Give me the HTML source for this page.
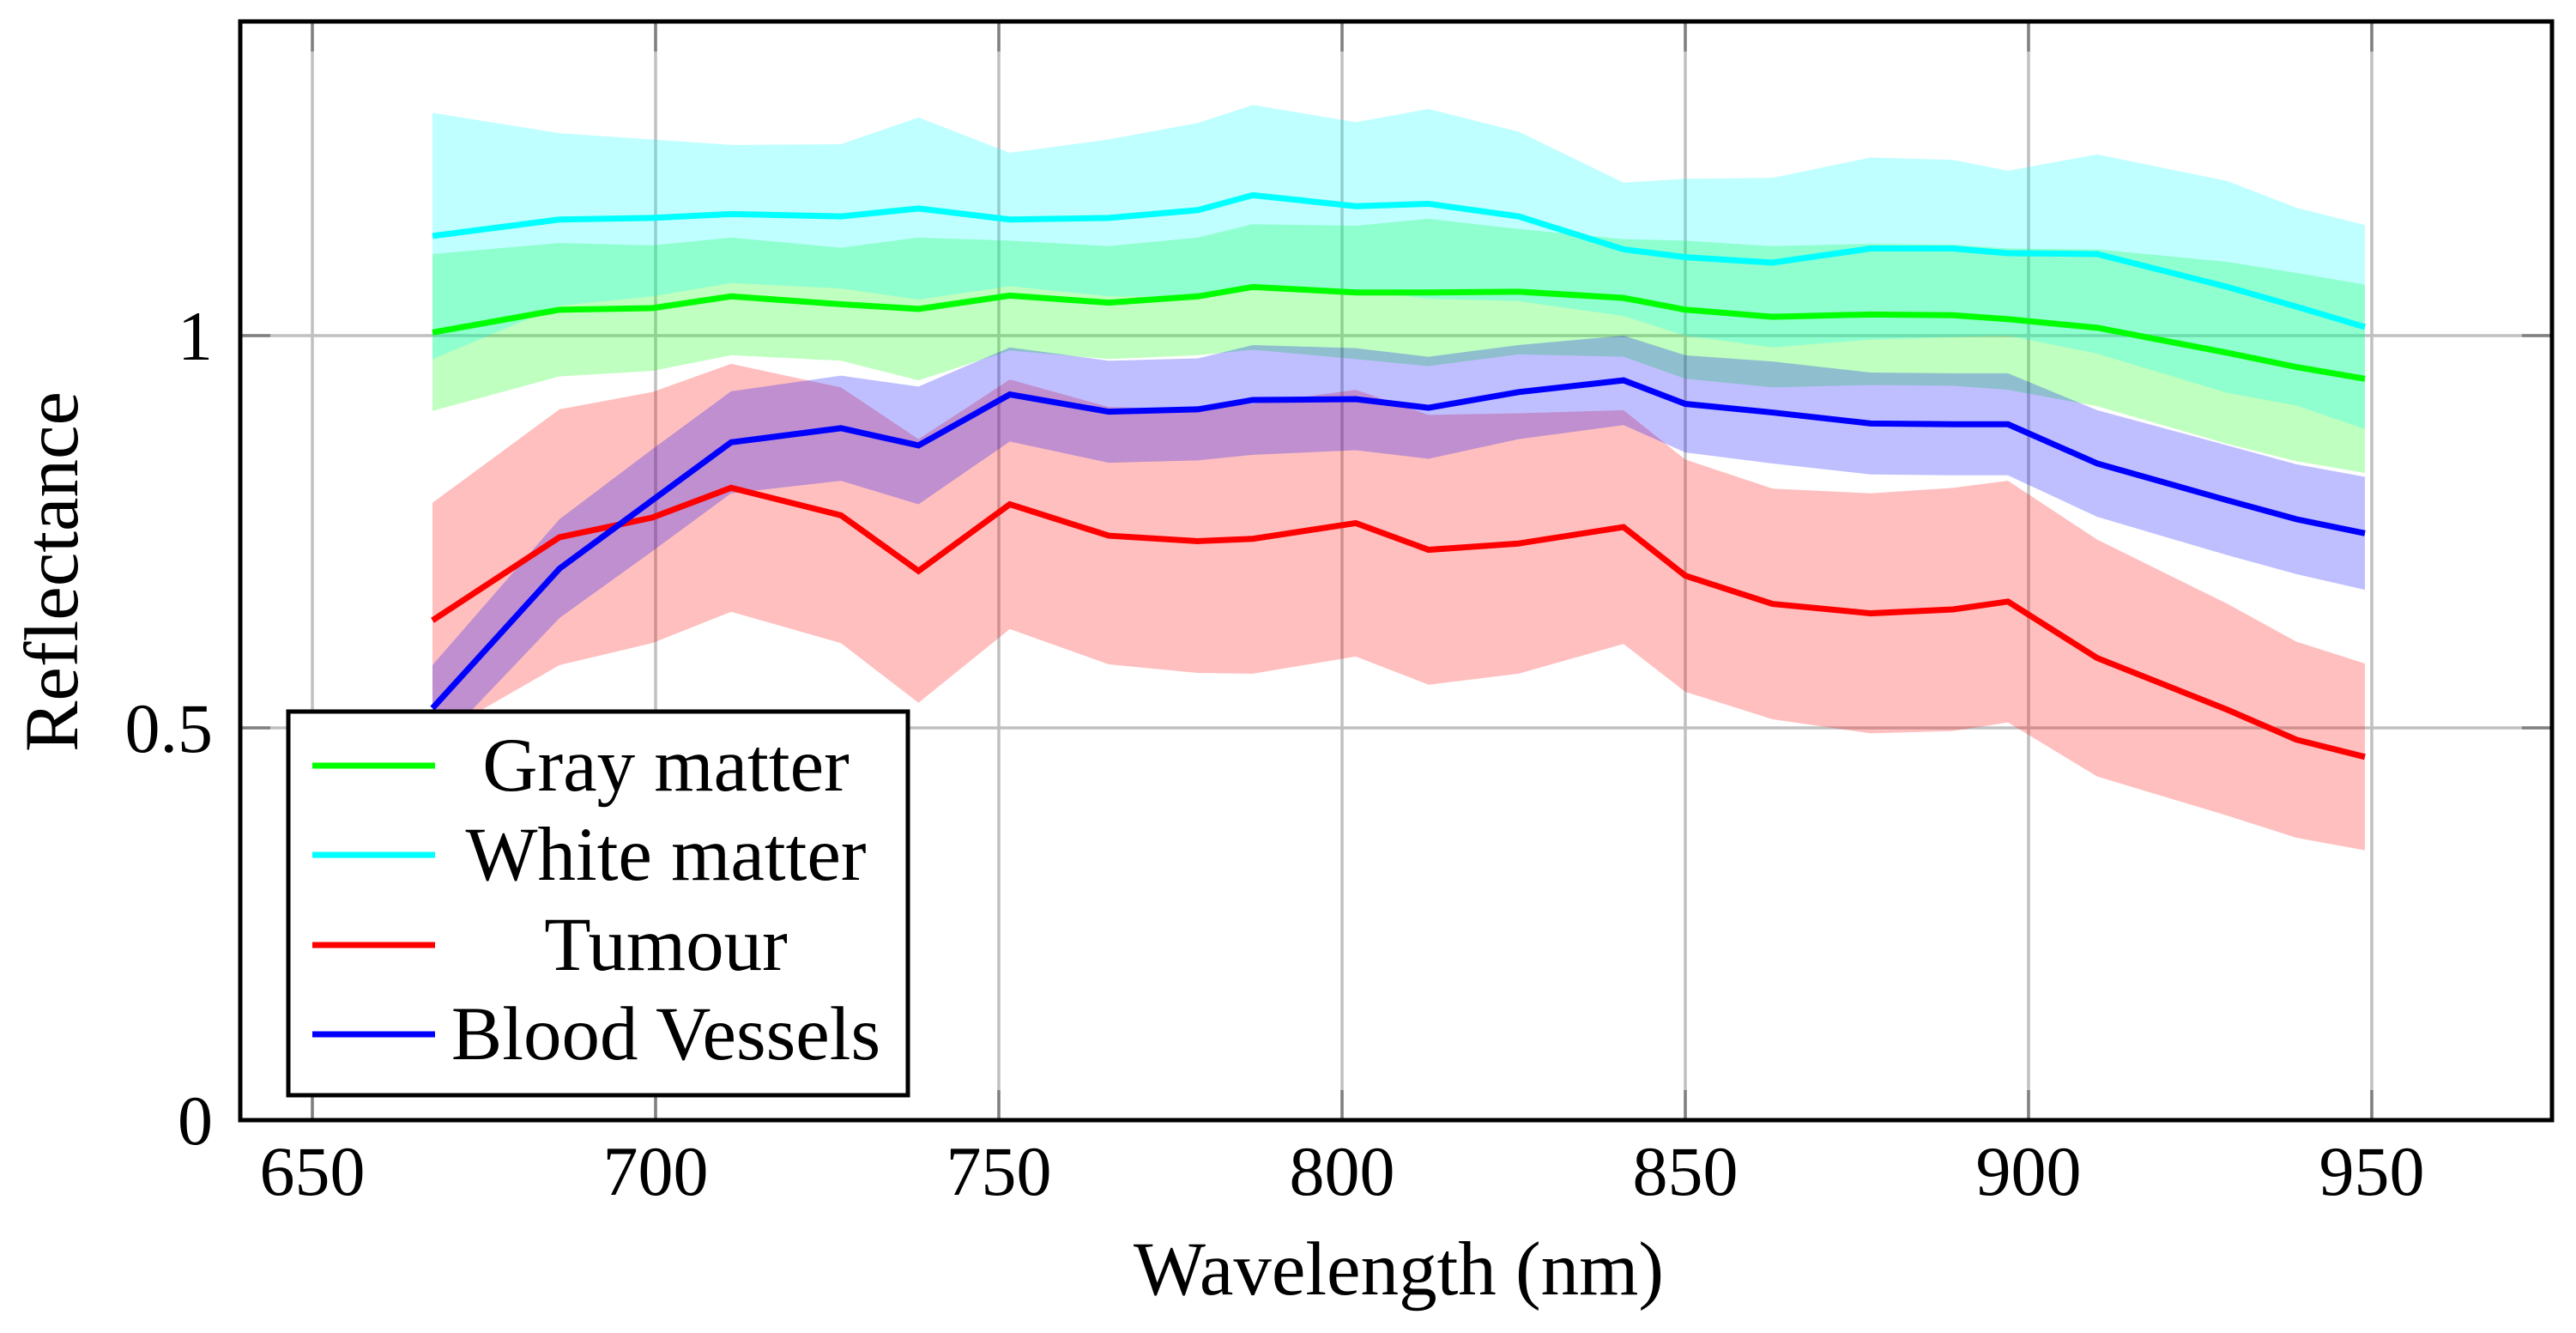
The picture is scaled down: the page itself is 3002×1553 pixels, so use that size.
<!DOCTYPE html>
<html><head><meta charset="utf-8"><style>
html,body{margin:0;padding:0;background:#fff;}
svg{display:block;font-family:"Liberation Serif",serif;}
</style></head><body>
<svg id="chart" width="3002" height="1553" viewBox="0 0 3002 1553" xmlns="http://www.w3.org/2000/svg">
<g id="grid"></g>
<g id="bands"></g>
<g id="lines"></g>
<rect x="280" y="25" width="2694" height="1280" fill="none" stroke="#000" stroke-width="5"/>
<g id="ticks"></g>
<text x="1630" y="1508" font-size="89" text-anchor="middle">Wavelength (nm)</text>
<text x="0" y="0" font-size="89" text-anchor="middle" transform="translate(90,666) rotate(-90)">Reflectance</text>
<g id="legend"></g>
</svg>
<script>
const wavelengths=[667.5,686,699.5,711,727,738.3,751.6,766,779,787,802,812.6,825.7,841,850,862.7,877,889,897,910,929,939,949];
const grayMean=[1.004,1.033,1.035,1.05,1.04,1.034,1.051,1.042,1.05,1.062,1.055,1.055,1.056,1.048,1.033,1.024,1.027,1.026,1.021,1.01,0.978,0.96,0.945];
const grayStd=[0.10,0.085,0.08,0.075,0.072,0.091,0.07,0.072,0.075,0.08,0.085,0.094,0.08,0.075,0.088,0.09,0.09,0.09,0.09,0.1,0.116,0.12,0.12];
const whiteMean=[1.127,1.148,1.15,1.155,1.152,1.162,1.148,1.15,1.16,1.179,1.165,1.168,1.152,1.11,1.1,1.093,1.111,1.111,1.105,1.104,1.062,1.037,1.011];
const whiteStd=[0.157,0.11,0.1,0.088,0.092,0.116,0.085,0.1,0.111,0.115,0.107,0.121,0.108,0.085,0.10,0.108,0.116,0.113,0.105,0.127,0.135,0.126,0.13];
const tumourMean=[0.637,0.743,0.768,0.806,0.771,0.70,0.785,0.745,0.738,0.741,0.761,0.727,0.735,0.756,0.694,0.658,0.646,0.651,0.661,0.589,0.523,0.485,0.463];
const tumourStd=[0.15,0.163,0.16,0.158,0.163,0.168,0.159,0.164,0.168,0.172,0.17,0.172,0.166,0.149,0.148,0.147,0.153,0.155,0.154,0.151,0.135,0.125,0.119];
const bloodMean=[0.525,0.703,0.79,0.864,0.882,0.86,0.925,0.903,0.906,0.918,0.919,0.908,0.928,0.943,0.913,0.902,0.888,0.887,0.887,0.837,0.79,0.766,0.748];
const bloodStd=[0.055,0.063,0.065,0.065,0.067,0.075,0.06,0.065,0.065,0.07,0.065,0.065,0.06,0.057,0.062,0.065,0.065,0.065,0.065,0.068,0.07,0.07,0.072];
const xTicks=[650,700,750,800,850,900,950];
const yTicks=[0,0.5,1];
const yTickLabels=["0","0.5","1"];
const seriesNames=["Gray matter","White matter","Tumour","Blood Vessels"];

const NS="http://www.w3.org/2000/svg";
function X(v){return 364+(v-650)*8;}
function Y(v){return 1305-v*914;}
function mk(tag,attrs,parent){const e=document.createElementNS(NS,tag);for(const k in attrs)e.setAttribute(k,attrs[k]);parent.appendChild(e);return e;}

const grid=document.getElementById('grid');
xTicks.forEach(t=>{
  const l=mk('line',{x1:X(t),x2:X(t),y1:25,y2:1305,stroke:'#c0c0c0','stroke-width':3.5},grid);
  
  
  mk('line',{x1:X(t),x2:X(t),y1:1305,y2:1270,stroke:'#808080','stroke-width':3.5},grid);
  mk('line',{x1:X(t),x2:X(t),y1:25,y2:60,stroke:'#808080','stroke-width':3.5},grid);
});
yTicks.forEach(t=>{
  const l=mk('line',{x1:280,x2:2974,y1:Y(t),y2:Y(t),stroke:'#c0c0c0','stroke-width':3.5},grid);
  
  
  mk('line',{x1:280,x2:315,y1:Y(t),y2:Y(t),stroke:'#808080','stroke-width':3.5},grid);
  mk('line',{x1:2939,x2:2974,y1:Y(t),y2:Y(t),stroke:'#808080','stroke-width':3.5},grid);
});
const ticks=document.getElementById('ticks');
xTicks.forEach(t=>{
  const tx=mk('text',{x:X(t),y:1392,'font-size':82,'text-anchor':'middle'},ticks);
  tx.textContent=String(t);
  
  
});
yTicks.forEach((t,i)=>{
  const tx=mk('text',{x:248,y:Y(t)+28,'font-size':82,'text-anchor':'end'},ticks);
  tx.textContent=yTickLabels[i];
  
  
});

const series=[
  {mean:grayMean,std:grayStd,color:'#00ff00',key:'gray-matter'},
  {mean:whiteMean,std:whiteStd,color:'#00ffff',key:'white-matter'},
  {mean:tumourMean,std:tumourStd,color:'#ff0000',key:'tumour'},
  {mean:bloodMean,std:bloodStd,color:'#0000ff',key:'blood-vessels'}
];
const bands=document.getElementById('bands'),lines=document.getElementById('lines');
series.forEach(s=>{
  const up=wavelengths.map((w,i)=>X(w)+','+Y(s.mean[i]+s.std[i]));
  const dn=wavelengths.map((w,i)=>X(w)+','+Y(s.mean[i]-s.std[i])).reverse();
  const p=mk('polygon',{points:up.concat(dn).join(' '),fill:s.color,'fill-opacity':0.25},bands);
  
  
});
series.forEach(s=>{
  const pts=wavelengths.map((w,i)=>X(w)+','+Y(s.mean[i])).join(' ');
  const l=mk('polyline',{points:pts,fill:'none',stroke:s.color,'stroke-width':7,'stroke-linejoin':'miter'},lines);
  
  
});

const lg=document.getElementById('legend');
const box=mk('rect',{x:336,y:829,width:722,height:447,fill:'#fff',stroke:'#000','stroke-width':5},lg);


const rowsY=[892,996,1101,1205];
series.forEach((s,i)=>{
  const g=mk('g',{},lg);
  
  
  mk('line',{x1:364,x2:507,y1:rowsY[i],y2:rowsY[i],stroke:s.color,'stroke-width':7},g);
  const t=mk('text',{x:776,y:rowsY[i]+29,'font-size':89,'text-anchor':'middle'},g);
  t.textContent=seriesNames[i];
});
</script>
</body></html>
